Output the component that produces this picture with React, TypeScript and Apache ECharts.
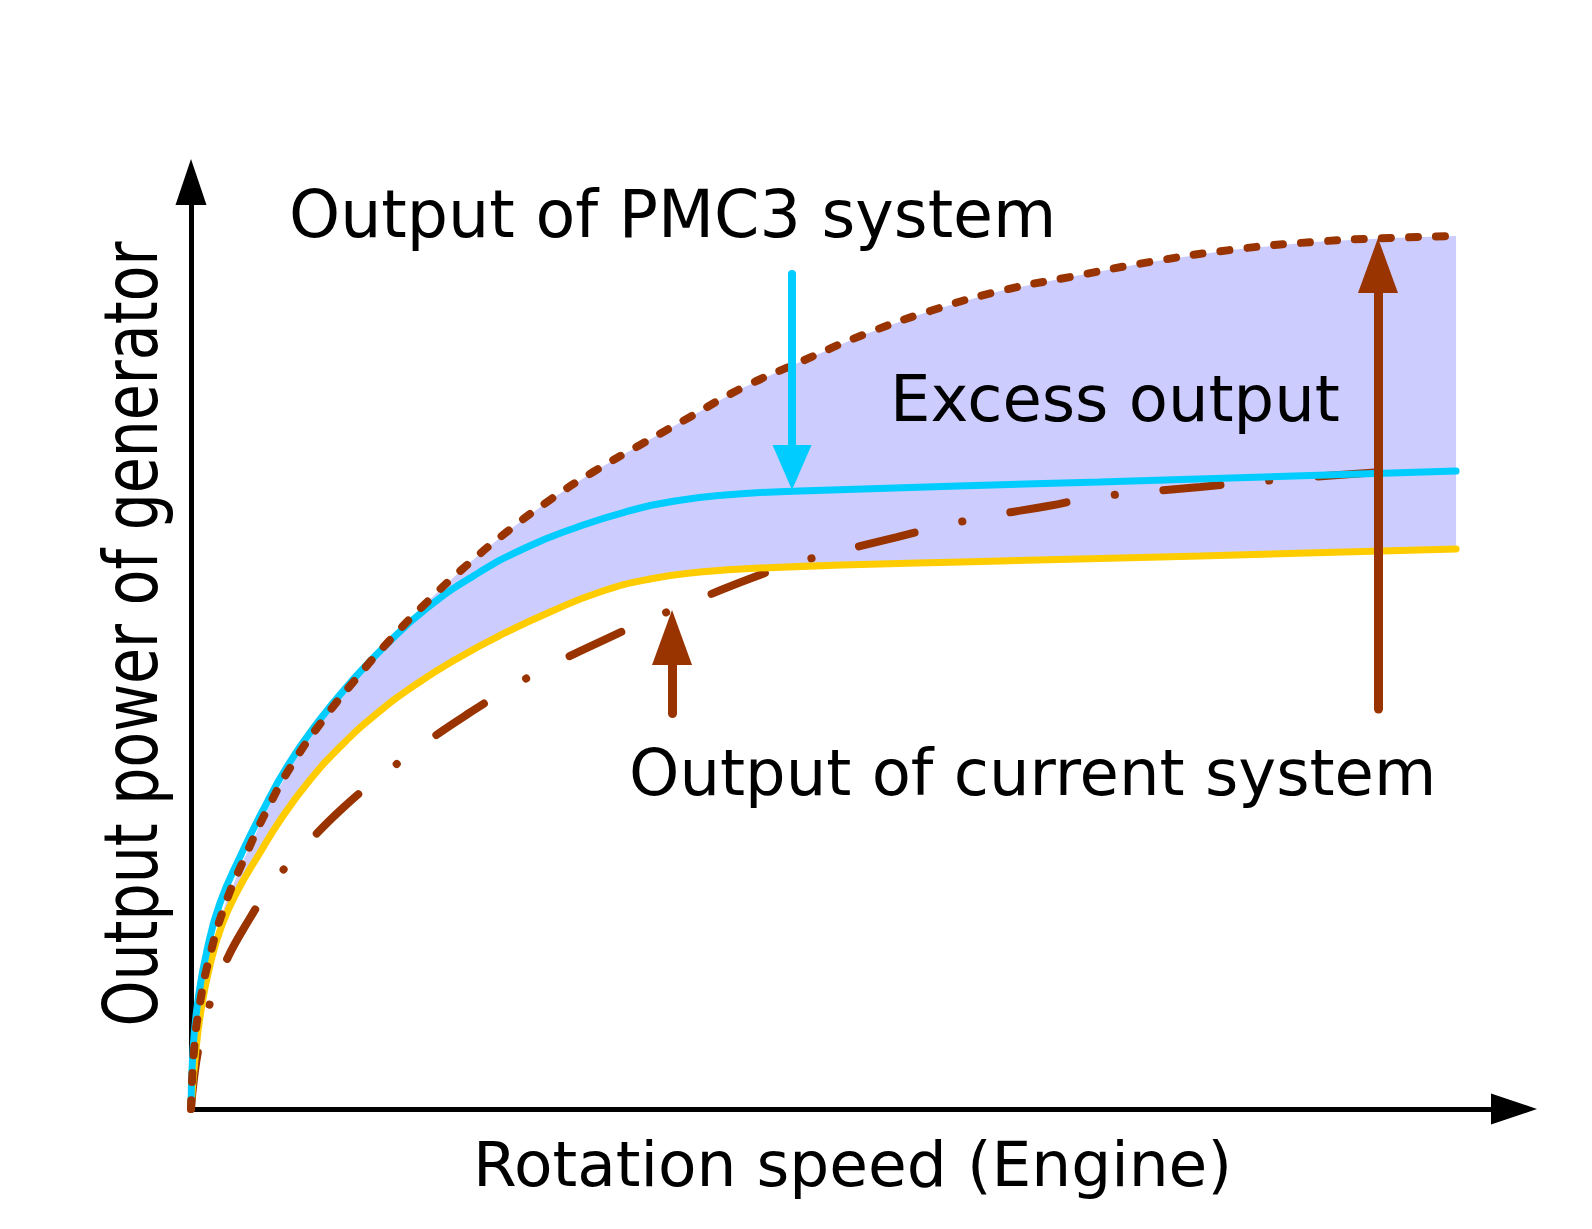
import React, { useEffect, useRef } from "react";
import * as echarts from "echarts";

// Output of PMC3 system (cyan curve)
const pmc3Output: number[][] = [
  [0, 0], [0.15, 6.36], [0.53, 11.76], [1.21, 17.15], [2.19, 22.22], [3.7, 27.18],
  [5.37, 32.04], [7.33, 37.11], [9.6, 41.75], [12.02, 45.95], [14.66, 49.95], [17.84, 54.05],
  [21.47, 57.61], [25.25, 60.52], [29.02, 62.68], [32.8, 64.4], [36.58, 65.59], [40.36, 66.24],
  [46.03, 66.67], [68.71, 67.64], [95.62, 68.82],
];

// Yellow curve (lower bound of the excess output band)
const baseOutput: number[][] = [
  [0, 0], [0.3, 5.29], [0.76, 10.68], [1.44, 15.53], [2.34, 19.85], [3.55, 23.62],
  [5.06, 27.29], [6.95, 31.61], [8.99, 35.49], [11.26, 39.05], [13.91, 42.5], [16.93, 45.74],
  [20.33, 48.76], [23.73, 51.35], [27.13, 53.61], [30.91, 55.77], [34.69, 57.17], [38.47, 57.93],
  [42.99, 58.36], [61.15, 59.12], [76.27, 59.65], [95.62, 60.41],
];

// Dotted upper curve (maximum generator output)
const maxOutput: number[][] = [
  [0, 0], [0.23, 6.36], [0.68, 11.43], [1.44, 16.61], [2.57, 22.01], [4.08, 27.18],
  [5.74, 32.25], [7.71, 37.32], [9.98, 41.96], [12.4, 46.28], [14.97, 50.49], [17.84, 54.69],
  [20.86, 58.68], [23.96, 62.35], [27.13, 65.7], [30.39, 68.72], [33.94, 71.63], [37.72, 74.65],
  [41.5, 77.67], [46.03, 80.58], [50.79, 83.5], [55.86, 86.08], [61.15, 88.24], [66.44, 89.75],
  [72.49, 91.37], [78.53, 92.66], [84.81, 93.53], [90.63, 93.96], [95.62, 94.18],
];

// Dash-dot curve (output of current system)
const currentOutput: number[][] = [
  [0, 0], [0.23, 3.34], [0.6, 6.69], [1.28, 10.68], [2.34, 14.99], [4.46, 20.6],
  [6.5, 24.92], [8.62, 28.37], [11.64, 32.69], [14.59, 36.14], [17.69, 39.48], [21.16, 42.83],
  [24.11, 45.42], [26.98, 47.68], [30.91, 50.38], [34.39, 52.64], [37.49, 54.48], [42.18, 57.17],
  [45.43, 58.79], [48.53, 59.98], [53.36, 61.7], [56.76, 62.89], [60.39, 63.97], [64.78, 65.05],
  [68.48, 66.02], [76.27, 67.1], [83.82, 68.07], [92.14, 68.93],
];

// Annotation arrows: [x, yStart, yEnd]
const arrowPMC3 = [45.43, 90.08, 69.2];
const arrowCurrentShort = [36.36, 42.66, 50.86];
const arrowCurrentTall = [89.72, 43.15, 90.99];

const labels = {
  pmc3: "Output of PMC3 system",
  excess: "Excess output",
  current: "Output of current system",
  xName: "Rotation speed (Engine)",
  yName: "Output power of generator",
};

const CYAN = "#00CCFF";
const YELLOW = "#FFCC00";
const BROWN = "#993300";
const FILL = "#CCCCFF";
const FONT = '"DejaVu Sans", sans-serif';

export default function App() {
  const ref = useRef<HTMLDivElement>(null);
  useEffect(() => {
    if (!ref.current) return;
    const chart = echarts.init(ref.current, null, { renderer: "svg" });
    const axisCommon = {
      type: "value" as const,
      min: 0,
      max: 100,
      axisTick: { show: false },
      axisLabel: { show: false },
      splitLine: { show: false },
      axisLine: {
        show: true,
        onZero: false,
        symbol: ["none", "triangle"],
        symbolSize: [31, 46],
        lineStyle: { color: "#000", width: 5 },
      },
    };
    const lineCommon = {
      type: "line" as const,
      showSymbol: false,
      smooth: 0.5,
    };
    const option: any = {
      animation: false,
      backgroundColor: "#fff",
      grid: { left: 191, right: 78, top: 182, bottom: 120 },
      xAxis: {
        ...axisCommon,
        name: labels.xName,
        nameLocation: "middle",
        nameGap: 24,
        nameTextStyle: { fontFamily: FONT, fontSize: 63, color: "#000" },
      },
      yAxis: { ...axisCommon },
      series: [
        {
          type: "custom",
          silent: true,
          z: 1,
          data: [[0, 0]],
          renderItem: (_params: any, api: any) => {
            const pts: number[][] = [];
            maxOutput.forEach((p) => pts.push(api.coord(p)));
            for (let i = baseOutput.length - 1; i >= 0; i--) pts.push(api.coord(baseOutput[i]));
            return { type: "polygon", shape: { points: pts }, style: { fill: FILL } };
          },
        },
        {
          ...lineCommon,
          name: "current",
          z: 2,
          data: currentOutput,
          lineStyle: { color: BROWN, width: 8, type: [57, 49, 0.1, 49], cap: "round" },
        },
        {
          ...lineCommon,
          name: "base",
          z: 3,
          data: baseOutput,
          lineStyle: { color: YELLOW, width: 7, cap: "round" },
        },
        {
          ...lineCommon,
          name: "pmc3",
          z: 4,
          data: pmc3Output,
          lineStyle: { color: CYAN, width: 7, cap: "round" },
          markLine: {
            silent: true,
            z: 10,
            symbol: ["none", "triangle"],
            symbolSize: [39, 45],
            label: { show: false },
            lineStyle: { color: CYAN, width: 8, type: "solid", cap: "round" },
            data: [[{ coord: [arrowPMC3[0], arrowPMC3[1]] }, { coord: [arrowPMC3[0], arrowPMC3[2]] }]],
          },
        },
        {
          ...lineCommon,
          name: "max",
          z: 5,
          data: maxOutput,
          lineStyle: { color: BROWN, width: 8, type: [9, 18], cap: "round" },
          markLine: {
            silent: true,
            z: 10,
            symbol: ["none", "triangle"],
            symbolSize: [40, 55],
            label: { show: false },
            lineStyle: { color: BROWN, width: 9, type: "solid", cap: "round" },
            data: [
              [{ coord: [arrowCurrentShort[0], arrowCurrentShort[1]] }, { coord: [arrowCurrentShort[0], arrowCurrentShort[2]] }],
              [{ coord: [arrowCurrentTall[0], arrowCurrentTall[1]] }, { coord: [arrowCurrentTall[0], arrowCurrentTall[2]] }],
            ],
          },
        },
      ],
      graphic: [
        {
          type: "text", z: 20, x: 289, y: 214,
          style: { text: labels.pmc3, fontFamily: FONT, fontSize: 65, fill: "#000", align: "left", verticalAlign: "middle" },
        },
        {
          type: "text", z: 20, x: 890, y: 399,
          style: { text: labels.excess, fontFamily: FONT, fontSize: 64, fill: "#000", align: "left", verticalAlign: "middle" },
        },
        {
          type: "text", z: 20, x: 629, y: 773,
          style: { text: labels.current, fontFamily: FONT, fontSize: 64, fill: "#000", align: "left", verticalAlign: "middle" },
        },
        {
          type: "text", z: 20, x: 131, y: 634, rotation: Math.PI / 2, scaleX: 0.78,
          style: { text: labels.yName, fontFamily: FONT, fontSize: 75, fill: "#000", align: "center", verticalAlign: "middle" },
        },
      ],
    };
    chart.setOption(option);
    return () => chart.dispose();
  }, []);
  return (
    <div
      ref={ref}
      style={{ position: "fixed", left: 0, top: 0, width: 1592, height: 1229, background: "#fff" }}
    />
  );
}
